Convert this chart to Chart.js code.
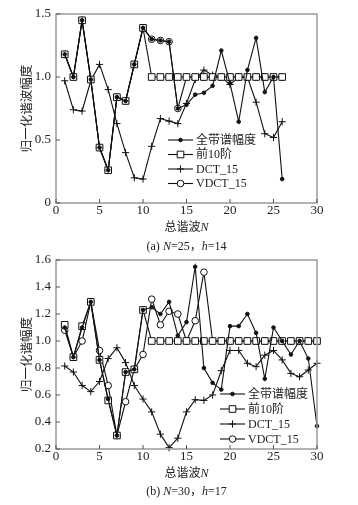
<!DOCTYPE html>
<html>
<head>
<meta charset="utf-8">
<script src="https://cdn.jsdelivr.net/npm/chart.js@4.4.0/dist/chart.umd.min.js"></script>
<style>
body { margin: 0; background: #fff; width: 358px; height: 505px; position: relative; overflow: hidden;
  font-family: "Liberation Serif", "Noto Sans CJK SC", serif; color: #222; }
.box { position: absolute; left: 0; width: 358px; }
.txt { position: absolute; left: 0; width: 373px; text-align: center; font-size: 12px; line-height: 16px; white-space: nowrap; }
</style>
</head>
<body>
<div class="box" style="top:0;height:222px"><canvas id="chartA"></canvas></div>
<div class="txt" style="top:219px">总谐波<i>N</i></div>
<div class="txt" style="top:238px">(a) <i>N</i>=25，<i>h</i>=14</div>
<div class="box" style="top:240px;height:228px"><canvas id="chartB"></canvas></div>
<div class="txt" style="top:465px">总谐波<i>N</i></div>
<div class="txt" style="top:483px">(b) <i>N</i>=30，<i>h</i>=17</div>
<script>
// series names
var seriesNames = ["全带谱幅度", "前10阶", "DCT_15", "VDCT_15"];

// (a) N=25, h=14
var harmonicsA = [1,2,3,4,5,6,7,8,9,10,11,12,13,14,15,16,17,18,19,20,21,22,23,24,25,26];
var fullA  = [1.18,1.00,1.45,0.98,0.44,0.26,0.84,0.81,1.10,1.39,1.30,1.29,1.28,0.75,0.78,0.86,0.875,0.93,1.21,0.95,0.645,1.055,1.31,0.88,1.00,0.19];
var top10A = [1.18,1.00,1.45,0.98,0.44,0.26,0.84,0.81,1.10,1.39,1,1,1,1,1,1,1,1,1,1,1,1,1,1,1,1];
var dctA   = [0.97,0.74,0.73,0.97,1.10,0.90,0.63,0.40,0.20,0.19,0.45,0.67,0.65,0.63,0.79,0.98,1.055,1.015,1.00,0.94,1.00,1.00,0.80,0.55,0.52,0.645];
var vdctA  = [1.18,1.00,1.45,0.98,0.44,0.26,0.84,0.81,1.10,1.39,1.30,1.29,1.28,0.75,1,1,1,1,1,1,1,1,1,1,1,1];
var yTicksA = [0, 0.5, 1.0, 1.5];

// (b) N=30, h=17
var harmonicsB = [1,2,3,4,5,6,7,8,9,10,11,12,13,14,15,16,17,18,19,20,21,22,23,24,25,26,27,28,29,30];
var fullB  = [1.10,0.88,1.10,1.29,0.86,0.57,0.30,0.77,0.79,1.23,1.25,1.20,1.29,1.04,1.14,1.55,0.80,0.69,0.64,1.11,1.11,1.20,1.06,0.72,1.10,1.00,0.90,1.00,0.87,0.37];
var top10B = [1.12,0.88,1.11,1.29,0.86,0.56,0.30,0.77,0.79,1.23,1,1,1,1,1,1,1,1,1,1,1,1,1,1,1,1,1,1,1,1];
var dctB   = [0.815,0.77,0.67,0.625,0.70,0.87,0.95,0.84,0.67,0.57,0.475,0.31,0.21,0.28,0.475,0.565,0.56,0.60,0.78,0.93,0.93,0.835,0.81,0.895,0.93,0.86,0.76,0.735,0.785,0.835];
var vdctB  = [1.08,0.88,1.00,1.29,0.93,0.67,0.30,0.55,0.79,0.90,1.31,1.12,1.22,1.20,1.00,1.15,1.51,1,1,1,1,1,1,1,1,1,1,1,1,1];
var yTicksB = [0.2, 0.4, 0.6, 0.8, 1.0, 1.2, 1.4, 1.6];

var xTicks = [0, 5, 10, 15, 20, 25, 30];

var serif = '"Liberation Serif", "Noto Sans CJK SC"';

function pts(xs, ys) {
  return xs.map(function (x, i) { return { x: x, y: ys[i] }; });
}

function makeDatasets(xs, full, top10, dct, vdct) {
  var base = { borderColor: "#111", borderWidth: 1.1, pointBorderColor: "#111", pointBorderWidth: 1, tension: 0, clip: false };
  return [
    Object.assign({}, base, { label: seriesNames[0], data: pts(xs, full), pointStyle: "circle", pointRadius: 1.8, pointBackgroundColor: "#111" }),
    Object.assign({}, base, { label: seriesNames[1], data: pts(xs, top10), pointStyle: "rect", pointRadius: 4.7, pointBackgroundColor: "#fff" }),
    Object.assign({}, base, { label: seriesNames[2], data: pts(xs, dct), pointStyle: "cross", pointRadius: 3.6, pointBackgroundColor: "#111" }),
    Object.assign({}, base, { label: seriesNames[3], data: pts(xs, vdct), pointStyle: "circle", pointRadius: 3.3, pointBackgroundColor: "#fff" })
  ];
}

// box round the plot and short inward ticks
var frame = {
  id: "frame",
  afterDraw: function (chart) {
    var ctx = chart.ctx, a = chart.chartArea;
    var sx = chart.scales.x, sy = chart.scales.y;
    ctx.save();
    ctx.strokeStyle = "#9a9a9a";
    ctx.lineWidth = 1.5;
    ctx.strokeRect(a.left, a.top, a.right - a.left, a.bottom - a.top);
    ctx.strokeStyle = "#555";
    ctx.lineWidth = 1;
    ctx.beginPath();
    sx.ticks.forEach(function (t) {
      var px = sx.getPixelForValue(t.value);
      ctx.moveTo(px, a.bottom);
      ctx.lineTo(px, a.bottom - 4);
    });
    sy.ticks.forEach(function (t) {
      var py = sy.getPixelForValue(t.value);
      ctx.moveTo(a.left, py);
      ctx.lineTo(a.left + 4, py);
    });
    ctx.stroke();
    ctx.restore();
  }
};

// legend drawn inside the plot
var innerLegend = {
  id: "innerLegend",
  afterDraw: function (chart, args, opts) {
    var ctx = chart.ctx, a = chart.chartArea;
    var x0 = a.left + opts.dx, y0 = a.top + opts.dy;
    ctx.save();
    chart.data.datasets.forEach(function (ds, i) {
      var y = y0 + i * opts.gap;
      ctx.strokeStyle = "#111";
      ctx.lineWidth = 1.1;
      ctx.beginPath();
      ctx.moveTo(x0, y);
      ctx.lineTo(x0 + 25, y);
      ctx.stroke();
      ctx.fillStyle = ds.pointBackgroundColor;
      ctx.lineWidth = 1;
      Chart.helpers.drawPoint(ctx, { pointStyle: ds.pointStyle, radius: ds.pointRadius, borderWidth: 1, rotation: 0 }, x0 + 12.5, y);
      ctx.fillStyle = "#222";
      ctx.font = "12px " + serif;
      ctx.textBaseline = "middle";
      ctx.fillText(ds.label, x0 + 28, y + 0.5);
    });
    ctx.restore();
  }
};

function makeChart(id, xs, sets, yMin, yMax, yStep, yTitle, legendPos, padTop) {
  return new Chart(document.getElementById(id), {
    type: "line",
    data: { datasets: sets },
    plugins: [frame, innerLegend],
    options: {
      responsive: true,
      maintainAspectRatio: false,
      animation: false,
      devicePixelRatio: 1,
      layout: { padding: { top: padTop, right: 41, left: 0, bottom: 0 } },
      plugins: { legend: { display: false }, tooltip: { enabled: false }, innerLegend: legendPos },
      scales: {
        x: {
          type: "linear", min: 0, max: 30,
          grid: { display: false, drawTicks: false }, border: { display: false },
          ticks: { stepSize: 5, padding: 0, maxRotation: 0, color: "#222", font: { family: serif, size: 13 } },
          afterFit: function (s) { s.height = 19; }
        },
        y: {
          min: yMin, max: yMax,
          grid: { display: false, drawTicks: false }, border: { display: false },
          ticks: {
            stepSize: yStep, padding: 5, color: "#222", font: { family: serif, size: 13 },
            callback: function (v) { return v === 0 ? "0" : v.toFixed(1); }
          },
          title: { display: true, text: yTitle, color: "#222", padding: { top: 20, bottom: 0 }, font: { family: serif, size: 12.5 } },
          afterFit: function (s) { s.width = 56; }
        }
      }
    }
  });
}

makeChart("chartA", harmonicsA, makeDatasets(harmonicsA, fullA, top10A, dctA, vdctA),
  yTicksA[0], yTicksA[yTicksA.length - 1], 0.5, "归一化谐波幅度", { dx: 112, dy: 126, gap: 14.5 }, 14);
makeChart("chartB", harmonicsB, makeDatasets(harmonicsB, fullB, top10B, dctB, vdctB),
  yTicksB[0], yTicksB[yTicksB.length - 1], 0.2, "归一化谐幅度", { dx: 164, dy: 134, gap: 15 }, 20);
</script>
</body>
</html>
